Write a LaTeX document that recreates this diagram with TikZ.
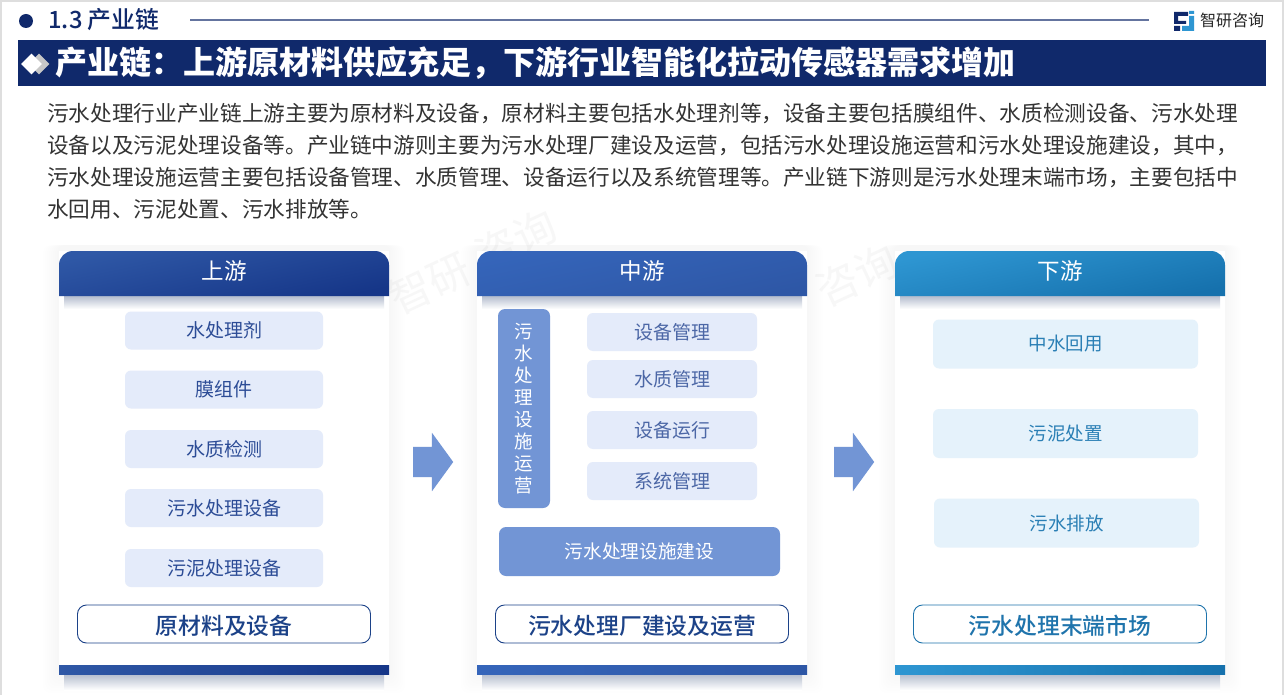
\documentclass[tikz,border=0pt]{standalone}
\usepackage{fontspec}
\setmainfont{Noto Sans CJK SC}
\newfontfamily\mediumcjk{Noto Sans CJK SC Medium}
\usepackage{tikz}
\usetikzlibrary{positioning,shapes}
\definecolor{navy}{HTML}{10296B}
\definecolor{upblue}{HTML}{2F58A6}
\definecolor{updark}{HTML}{163688}
\definecolor{midblue}{HTML}{3565BA}
\definecolor{middark}{HTML}{2E57A6}
\definecolor{lowblue}{HTML}{2E96D2}
\definecolor{lowdark}{HTML}{1671AD}
\definecolor{itemfill}{HTML}{E4EBFA}
\definecolor{itemtext}{HTML}{2C4C96}
\definecolor{midfill}{HTML}{7295D5}
\definecolor{lowfill}{HTML}{E5F2FB}
\definecolor{lowtext}{HTML}{2A7FB5}
\definecolor{capblue}{HTML}{1C4288}
\definecolor{caplow}{HTML}{1F74AC}
\definecolor{hazetop}{HTML}{B4BDCE}
\begin{document}
\begin{tikzpicture}[
    x=1pt, y=-1pt,
    panel/.style={fill=white, draw=none, minimum width=330pt, minimum height=423pt},
    haze/.style={top color=hazetop, bottom color=white, draw=none},
    glow/.style={fill=black, opacity=0.004, rounded corners=8pt},
    head/.style={text=white, inner sep=0pt, font=\fontsize{22.5}{24}\selectfont},
    foot/.style={minimum width=330pt, minimum height=9pt, inner sep=0pt},
    item/.style={fill=itemfill, rounded corners=6pt, text=itemtext, minimum width=198pt, minimum height=38pt, inner sep=0pt, font=\fontsize{19}{21}\selectfont},
    sub/.style={item, minimum width=170pt, text=itemtext!85!white},
    darkbox/.style={fill=midfill, rounded corners=7pt, text=white, inner sep=0pt, font=\fontsize{18.7}{21}\selectfont},
    lowitem/.style={item, fill=lowfill, text=lowtext, minimum width=265pt, minimum height=49pt, font=\fontsize{18.5}{21}\selectfont},
    caption/.style={draw=#1, line width=0.9pt, fill=white, rounded corners=9pt, minimum width=293pt, minimum height=38pt, inner sep=0pt, text height=24pt, text depth=2.7pt, text=#1, font=\fontsize{22.8}{25}\mediumcjk},
    flow/.style={single arrow, fill=midfill, draw=none, anchor=tail, text height=30pt, text depth=0pt, minimum height=40pt, single arrow head extend=14pt, single arrow tip angle=108, inner sep=0pt},
    stamp/.style={text=black!3, rotate=25, inner sep=0pt, font=\fontsize{42}{44}\selectfont}
  ]
  \useasboundingbox (0,0) rectangle (1284,695);
  \fill[white] (0,0) rectangle (1284,695);
  \draw[black!13, line width=1.5pt] (1,695) -- (1,1) -- (1283,1) -- (1283,695);

  % Background marks
  \node[stamp] (stampone) at (430,283) {智研};
  \node[stamp] (stamptwo) at (516,240) {咨询};
  \node[stamp] (stampthree) at (857,275) {咨询};

  % Title rows
  \node[circle, fill=navy, minimum size=14pt, inner sep=0pt] (dot) at (26,21) {};
  \node[right=15pt of dot, text=navy, font=\fontsize{23.8}{26}\mediumcjk, inner sep=0pt, yshift=1pt] (section) {1.3 产业链};
  \node[inner sep=0pt, text=black!85, font=\fontsize{16}{18}\selectfont, anchor=west] (brand) at (1200,20) {智研咨询};
  \fill[navy] (1174,12) rectangle (1188,16) (1174,16) rectangle (1178,24) (1174,21) rectangle (1186,24) (1174,26) rectangle (1180,31);
  \fill[lowblue] (1189,11) rectangle (1194,14) (1189,16) rectangle (1194,31) (1182,26) rectangle (1194,31);
  \coordinate (rulestart) at (190,20);
  \coordinate (ruleend) at (1149,20);
  \draw[navy!65, line width=1.5pt] (rulestart) -- (ruleend);
  \node[fill=navy, minimum width=1248pt, minimum height=46pt, anchor=north west, inner sep=0pt] (banner) at (18,40) {};
  \node[diamond, fill=black!22, minimum size=21pt, inner sep=0pt] (gem2) at (39,64) {};
  \node[diamond, fill=white, minimum size=21pt, inner sep=0pt] (gem1) at (31.5,64) {};
  \node[anchor=west, text=white, inner sep=0pt, font=\fontsize{32}{34}\selectfont\bfseries] (heading) at (55,63) {产业链：上游原材料供应充足，下游行业智能化拉动传感器需求增加};

  % Intro text
  \node[anchor=north west, inner sep=0pt, text width=1230pt, text=black!80, font=\fontsize{21.65}{32.3}\selectfont] (intro) at (47,102.5) {\noindent
    污水处理行业产业链上游主要为原材料及设备，原材料主要包括水处理剂等，设备主要包括膜组件、水质检测设备、污水处理\\
    设备以及污泥处理设备等。产业链中游则主要为污水处理厂建设及运营，包括污水处理设施运营和污水处理设施建设，其中，\\
    污水处理设施运营主要包括设备管理、水质管理、设备运行以及系统管理等。产业链下游则是污水处理末端市场，主要包括中\\
    水回用、污泥处置、污水排放等。};

  % Panels
  \foreach \cx/\cola/\colb/\name/\txt in {224/upblue/updark/up/上游, 642/midblue/middark/mid/中游, 1060/lowblue/lowdark/low/下游} {
    \foreach \i in {2,4,...,16}
      \fill[glow] (\cx-165-\i,245) rectangle (\cx+165+\i,674+\i*1.2);
    \node[panel] (panel\name) at (\cx,462.5) {};
    \path[haze] (\cx-160,296) rectangle (\cx+160,309);
    \path[haze] (\cx-160,674) rectangle (\cx+160,690);
    \path[shading=axis, top color=\cola, bottom color=\colb, shading angle=12]
      (\cx-165,296) [rounded corners=14pt] -- (\cx-165,251) -- (\cx+165,251) [sharp corners] -- (\cx+165,296) -- cycle;
    \node[head] (head\name) at (\cx,271) {\txt};
    \node[foot, left color=\cola, right color=\colb] (foot\name) at (\cx,669.5) {};
  }

  % Upstream
  \foreach \name/\ypos/\txt in {water/330.5/水处理剂, film/389.5/膜组件, quality/449/水质检测, sewage/508/污水处理设备, sludge/568/污泥处理设备}
    \node[item] (\name) at (224,\ypos) {\txt};
  \node[caption=capblue] (capup) at (224,624) {原材料及设备};

  % Midstream
  \node[darkbox, minimum width=52pt, minimum height=199pt, align=center, font=\fontsize{18.5}{22}\selectfont] (run) at (524,408.5) {污\\水\\处\\理\\设\\施\\运\\营};
  \foreach \name/\ypos/\txt in {manage/332/设备管理, qmanage/379/水质管理, oper/430/设备运行, sys/481/系统管理}
    \node[sub] (\name) at (672,\ypos) {\txt};
  \node[darkbox, minimum width=281pt, minimum height=49pt] (build) at (639.5,551.5) {污水处理设施建设};
  \node[caption=capblue] (capmid) at (642,624) {污水处理厂建设及运营};

  % Downstream
  \foreach \name/\xpos/\ypos/\txt in {reuse/1065.5/344/中水回用, dispose/1065.5/433.5/污泥处置, drain/1066.5/523/污水排放}
    \node[lowitem] (\name) at (\xpos,\ypos) {\txt};
  \node[caption=caplow] (caplow) at (1060,624) {污水处理末端市场};

  % Arrows
  \node[flow] (arrowone) at (413,462) {};
  \node[flow] (arrowtwo) at (834,462) {};
\end{tikzpicture}
\end{document}
